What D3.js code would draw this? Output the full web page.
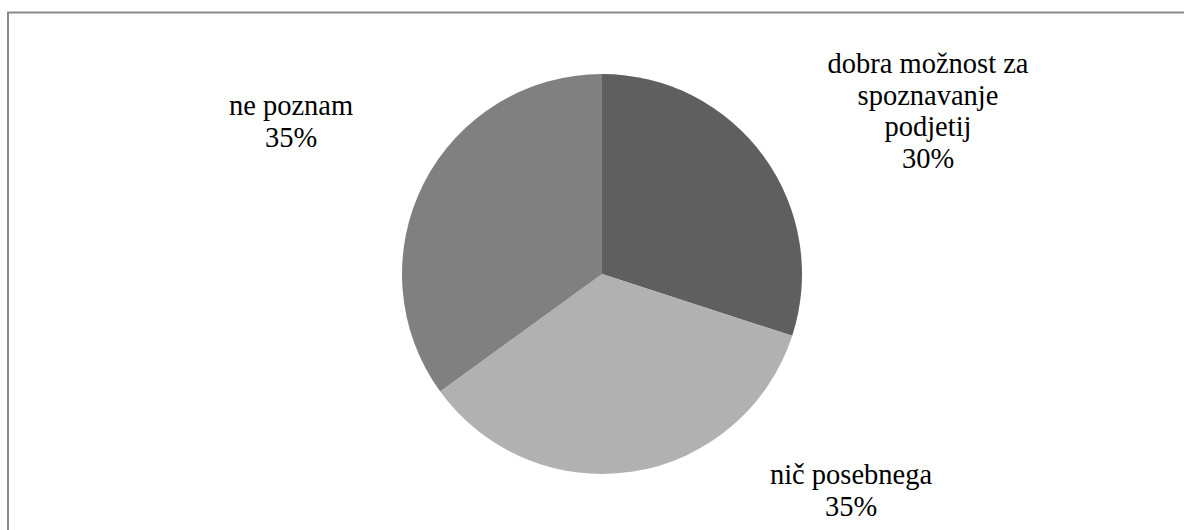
<!DOCTYPE html>
<html>
<head>
<meta charset="utf-8">
<script src="https://cdn.jsdelivr.net/npm/d3@7"></script>
<style>
html,body{margin:0;padding:0;background:#fff;}
svg{display:block;}
.lbl{font-family:"Liberation Serif","Tinos","Times New Roman",Times,"DejaVu Serif",serif;}
</style>
</head>
<body>
<svg id="chart" width="1184" height="530"></svg>
<script>
const categories = ["dobra možnost za spoznavanje podjetij", "nič posebnega", "ne poznam"];
const values = [30, 35, 35];
const labelLines = [
  ["dobra možnost za", "spoznavanje", "podjetij", "30%"],
  ["nič posebnega", "35%"],
  ["ne poznam", "35%"]
];
const colors = ["#5f5f5f", "#b1b1b1", "#808080"];

const svg = d3.select("#chart");
svg.append("rect")
  .attr("x", 8).attr("y", 12.5)
  .attr("width", 1200).attr("height", 600)
  .attr("fill", "none").attr("stroke", "#898989").attr("stroke-width", 2);

const cx = 602, cy = 274, r = 200;
const pie = d3.pie().sort(null).value(d => d)(values);
const arc = d3.arc().innerRadius(0).outerRadius(r);
const g = svg.append("g").attr("transform", `translate(${cx},${cy})`);
g.selectAll("path").data(pie).join("path")
  .attr("d", arc)
  .attr("fill", (d, i) => colors[i]);

const labelPos = [[928, 73], [851, 484], [291, 115]];
const lineH = 31.5;
labelLines.forEach((lines, i) => {
  const t = svg.append("text")
    .attr("class", "lbl")
    .attr("font-size", 28.5)
    .attr("fill", "#000")
    .attr("text-anchor", "middle");
  lines.forEach((ln, j) => {
    t.append("tspan").attr("x", labelPos[i][0]).attr("y", labelPos[i][1] + j * lineH).text(ln);
  });
});
</script>
</body>
</html>
